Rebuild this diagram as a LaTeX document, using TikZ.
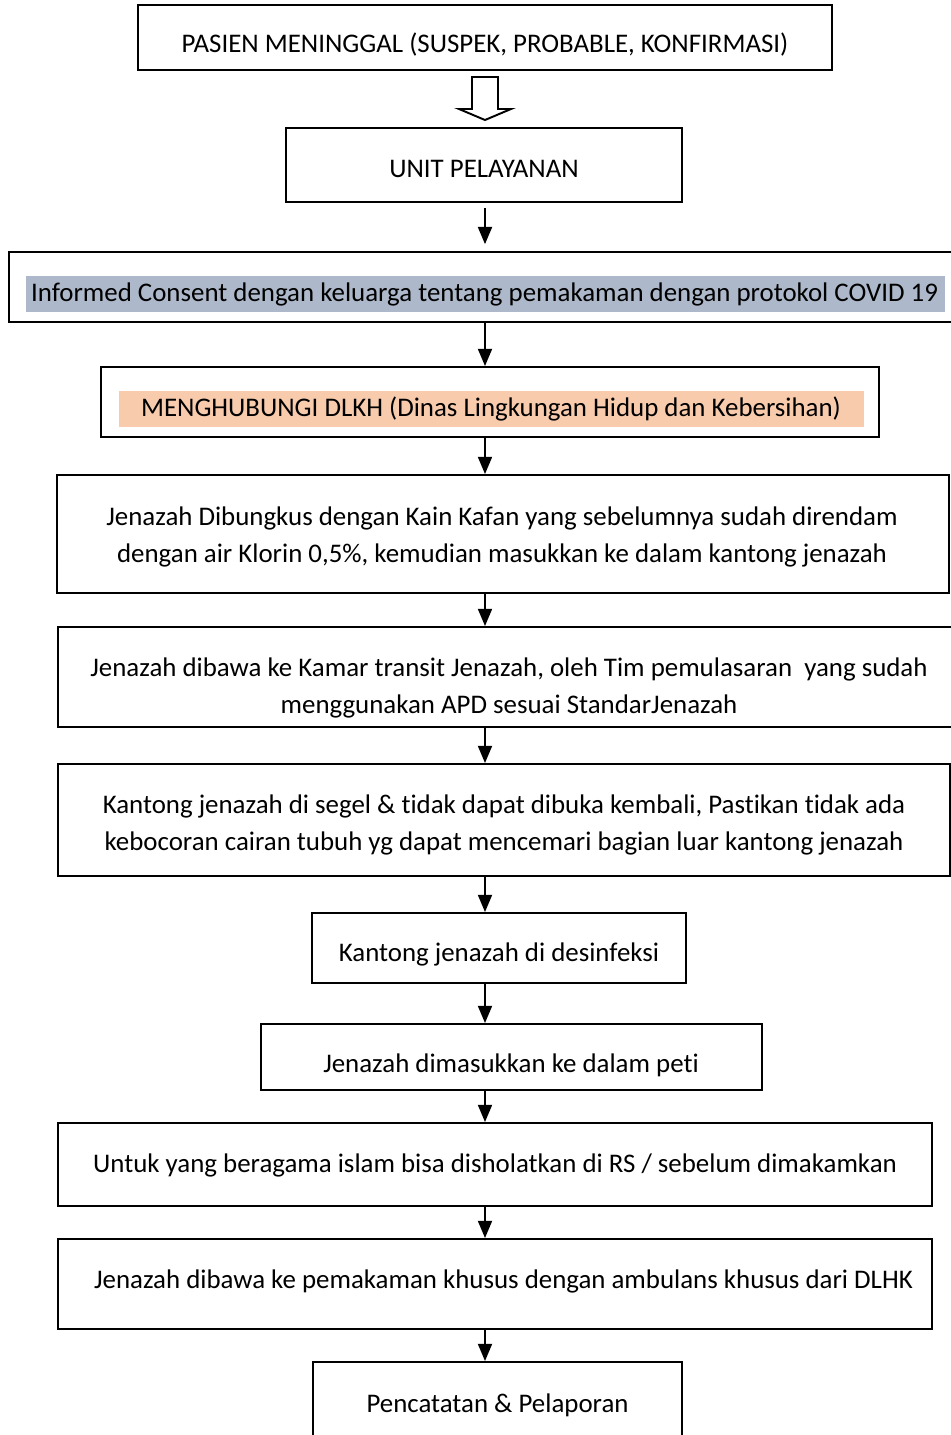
\documentclass[tikz,border=0pt]{standalone}
\usepackage{fontspec}
\setmainfont{Carlito}[Ligatures=NoCommon]
\usetikzlibrary{
    arrows.meta,
    fit,
    calc,
    positioning
}
\definecolor{abubiru}{HTML}{ADB9CA}
\definecolor{jingga}{HTML}{F8CBAD}
\tikzset{kotak/.style={draw=black, line width=0.9pt, inner sep=0pt},
         pita/.style={inner sep=0pt},
         teks/.style={inner sep=0pt, align=center, font=\fontsize{12.5}{17.2}\selectfont},
         panah/.style={-{Triangle[length=8pt, width=6.5pt]}, line width=0.9pt}}

\begin{document}
\begin{tikzpicture}[x=0.465pt, y=-0.465pt]
                        \useasboundingbox (0, 0) rectangle (951, 1435);
                        \coordinate (ax) at (485, 0);
                        % kotak-kotak
                        \node[kotak, fit={(138, 5) (832, 70)}] (pasien) {};
                        \node[kotak, fit={(286, 128) (682, 202)}] (unit) {};
                        \node[kotak, fit={(9, 252) (955, 322)}] (consent) {};
                        \node[pita, fill=abubiru, fit={(26, 276) (945, 312)}] (pconsent) {};
                        \node[kotak, fit={(101, 367) (879, 437)}] (dlkh) {};
                        \node[pita, fill=jingga, fit={(119, 391) (864, 427)}] (pdlkh) {};
                        \node[kotak, fit={(57, 475) (949, 593)}] (kafan) {};
                        \node[kotak, fit={(58, 627) (960, 727)}] (transit) {};
                        \node[kotak, fit={(58, 764) (950, 876)}] (segel) {};
                        \node[kotak, fit={(312, 913) (686, 983)}] (desinfeksi) {};
                        \node[kotak, fit={(261, 1024) (762, 1090)}] (peti) {};
                        \node[kotak, fit={(58, 1123) (932, 1206)}] (sholat) {};
                        \node[kotak, fit={(58, 1239) (932, 1329)}] (ambulans) {};
                        \node[kotak, fit={(313, 1362) (682, 1450)}] (catat) {};
                        % teks
                        \node[teks] (tpasien) at (485, 45) {PASIEN MENINGGAL (SUSPEK, PROBABLE, KONFIRMASI)};
                        \node[teks] (tunit) at (484, 169) {UNIT PELAYANAN};
                        \node[teks] (tconsent) at (484.5, 294) {Informed Consent dengan keluarga tentang pemakaman dengan protokol COVID 19};
                        \node[teks] (tdlkh) at (491, 409) {MENGHUBUNGI DLKH (Dinas Lingkungan Hidup dan Kebersihan)};
                        \node[teks] (tkafan) at (502, 537) {Jenazah Dibungkus dengan Kain Kafan yang sebelumnya sudah direndam\\dengan air Klorin 0,5\%, kemudian masukkan ke dalam kantong jenazah};
                        \node[teks] (ttransit) at (509, 688) {Jenazah dibawa ke Kamar transit Jenazah, oleh Tim pemulasaran\ \ yang sudah\\menggunakan APD sesuai StandarJenazah};
                        \node[teks] (tsegel) at (504, 825) {Kantong jenazah di segel \& tidak dapat dibuka kembali, Pastikan tidak ada\\kebocoran cairan tubuh yg dapat mencemari bagian luar kantong jenazah};
                        \node[teks] (tdesinfeksi) at (499, 954) {Kantong jenazah di desinfeksi};
                        \node[teks] (tpeti) at (511, 1065) {Jenazah dimasukkan ke dalam peti};
                        \node[teks] (tsholat) at (495, 1165) {Untuk yang beragama islam bisa disholatkan di RS / sebelum dimakamkan};
                        \node[teks] (tambulans) at (503.5, 1281) {Jenazah dibawa ke pemakaman khusus dengan ambulans khusus dari DLHK};
                        \node[teks] (tcatat) at (497.5, 1405) {Pencatatan \& Pelaporan};
                        % panah kosong
                        \draw[line width=0.9pt, line join=miter]
                        (472, 77) -- (498, 77) -- (498, 109) -- (511, 109)
                        -- (485, 120) -- (459, 109) -- (472, 109) -- cycle;
                        % panah
                        \draw[panah, shorten <=2.3pt, shorten >=3.2pt] (unit.south -| ax) -- (consent.north -| ax);
                        \draw[panah] (consent.south -| ax) -- (dlkh.north -| ax);
                        \draw[panah] (dlkh.south -| ax) -- (kafan.north -| ax);
                        \draw[panah] (kafan.south -| ax) -- (transit.north -| ax);
                        \draw[panah] (transit.south -| ax) -- (segel.north -| ax);
                        \draw[panah] (segel.south -| ax) -- (desinfeksi.north -| ax);
                        \draw[panah] (desinfeksi.south -| ax) -- (peti.north -| ax);
                        \draw[panah] (peti.south -| ax) -- (sholat.north -| ax);
                        \draw[panah] (sholat.south -| ax) -- (ambulans.north -| ax);
                        \draw[panah] (ambulans.south -| ax) -- (catat.north -| ax);
                    \end{tikzpicture}
\end{document}
